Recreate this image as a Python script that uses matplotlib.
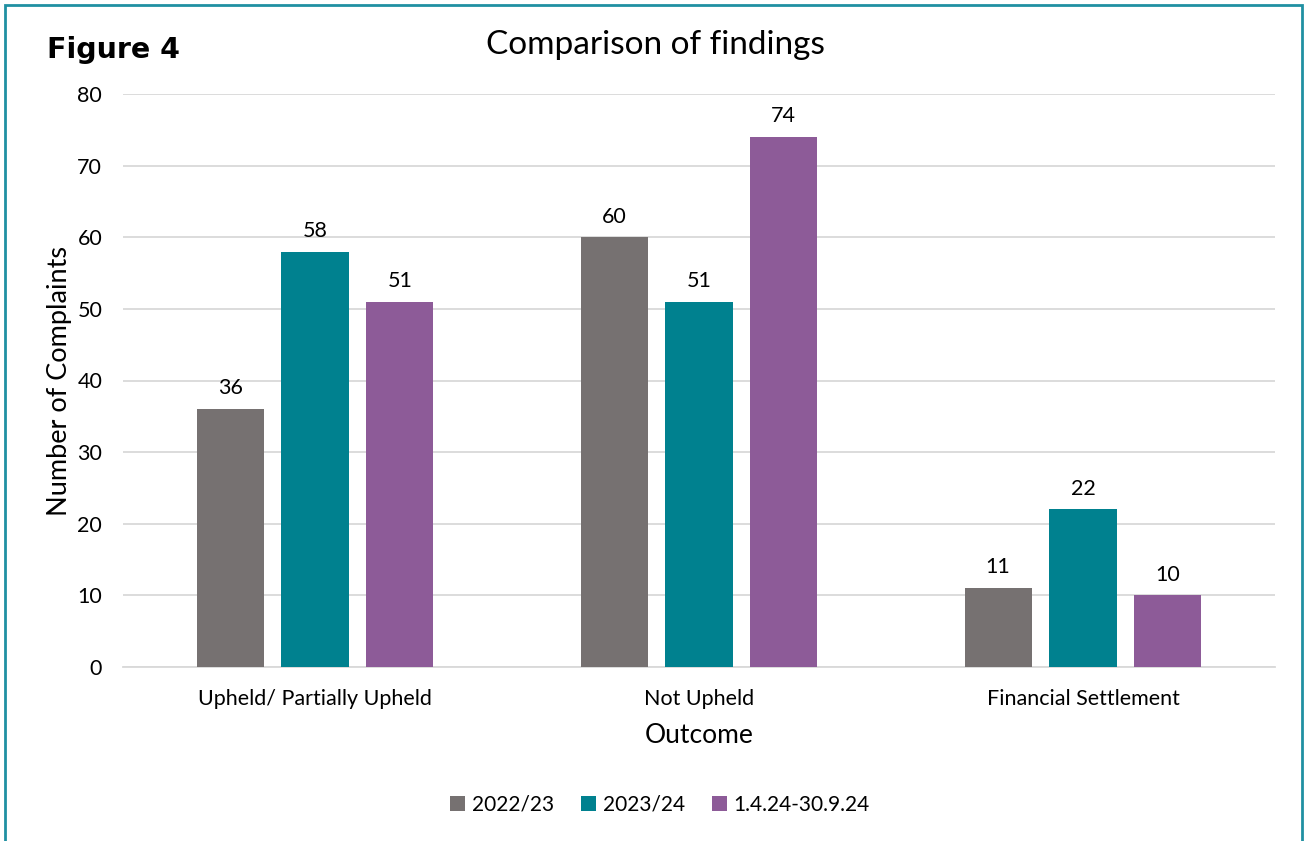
import numpy as np
import matplotlib.pyplot as plt
from matplotlib.patches import Rectangle

plt.rcParams['font.family'] = ['Lato', 'DejaVu Sans']

outcomes = ['Upheld/ Partially Upheld', 'Not Upheld', 'Financial Settlement']
periods = ['2022/23', '2023/24', '1.4.24-30.9.24']
counts_2223 = [36, 60, 11]
counts_2324 = [58, 51, 22]
counts_2425 = [51, 74, 10]
colours = ['#767171', '#00818F', '#8D5B98']

fig = plt.figure(figsize=(13.05, 8.41), dpi=100)
ax = fig.add_axes([123 / 1305, 1 - 667 / 841, 1152 / 1305, 573 / 841])

x = np.arange(len(outcomes))
width = 0.1745
step = 0.221
for i, (vals, lab, col) in enumerate(zip([counts_2223, counts_2324, counts_2425], periods, colours)):
    bars = ax.bar(x + (i - 1) * step, vals, width, color=col, label=lab, zorder=3)
    for b, v in zip(bars, vals):
        ax.text(b.get_x() + b.get_width() / 2, v + 1.5, str(v), ha='center', va='bottom',
                fontsize=15.5, color='#000000')

ax.set_xlim(-0.5, 2.5)
ax.set_ylim(0, 80)
ax.set_yticks(range(0, 81, 10))
ax.yaxis.grid(True, color='#D9D9D9', linewidth=1.3, zorder=0)
ax.set_axisbelow(True)
for s in ['top', 'right', 'left']:
    ax.spines[s].set_visible(False)
ax.spines['bottom'].set_color('#D9D9D9')
ax.spines['bottom'].set_linewidth(1.3)
ax.tick_params(axis='both', length=0, labelsize=15.5, colors='#000000')
ax.tick_params(axis='y', pad=15)
ax.tick_params(axis='x', pad=16)
ax.set_xticks(x)
ax.set_xticklabels(outcomes)
ax.set_xlabel('Outcome', fontsize=19, labelpad=10)
ax.set_ylabel('Number of Complaints', fontsize=19.5, labelpad=4)

fig.text(655 / 1305, 1 - 45 / 841, 'Comparison of findings', ha='center', va='center', fontsize=24)
fig.text(47 / 1305, 1 - 50 / 841, 'Figure 4', ha='left', va='center', fontsize=20.5,
         fontweight='bold', family=['DejaVu Sans'])

ax.legend(loc='center', bbox_to_anchor=(0.466, -0.24), ncol=3, frameon=False, fontsize=15,
          handlelength=0.75, handleheight=0.75, handletextpad=0.3, columnspacing=1.3)

# frame around the whole figure
fig.patches.append(Rectangle((5 / 1305, -0.01), 1297 / 1305, 1 - 5 / 841 + 0.01, transform=fig.transFigure,
                             fill=False, edgecolor='#2090A2', linewidth=2))

fig.savefig('out.png', dpi=100)
